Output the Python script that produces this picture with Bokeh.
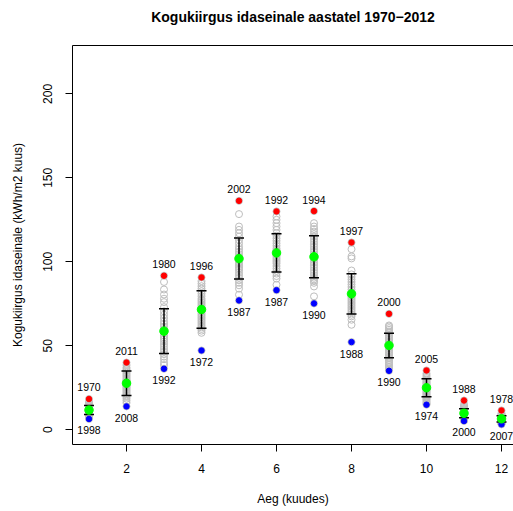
from bokeh.plotting import figure
from bokeh.models import FixedTicker, LinearAxis
from bokeh.core.properties import value
from bokeh.embed import file_html
from bokeh.resources import INLINE

months = list(range(1, 13))
max_val = [18.3, 40.0, 91.7, 90.7, 136.3, 130.0, 130.2, 111.5, 69.0, 35.3, 17.4, 11.5]
max_year = ["1970", "2011", "1980", "1996", "2002", "1992", "1994", "1997", "2000", "2005", "1988", "1978"]
min_val = [6.4, 13.9, 36.3, 47.2, 77.0, 83.1, 75.2, 52.2, 35.1, 14.9, 5.2, 3.2]
min_year = ["1998", "2008", "1992", "1972", "1987", "1987", "1990", "1988", "1990", "1974", "2000", "2007"]
mean_val = [11.7, 27.7, 58.7, 71.6, 101.9, 105.3, 103.0, 80.9, 50.2, 25.0, 9.8, 6.5]
sd_val = [2.7, 7.3, 13.3, 11.1, 12.2, 11.4, 12.5, 12.05, 7.3, 5.4, 2.7, 1.85]

vals_01 = [18.3, 16.5, 15.5, 14.8, 14.3, 13.8, 13.4, 13.0, 12.7, 12.4, 12.1, 11.8, 11.5, 11.3, 11.1,
           10.9, 10.7, 10.5, 10.3, 10.1, 9.9, 9.6, 9.3, 9.0, 8.7, 8.4, 8.0, 7.5, 7.0, 6.4]
vals_02 = [40.0, 38.5, 37.0, 36.0, 35.0, 34.0, 33.2, 32.4, 31.6, 30.8, 30.0, 29.3, 28.6, 28.0, 27.4,
           26.8, 26.2, 25.6, 25.0, 24.3, 23.6, 22.9, 22.1, 21.3, 20.4, 19.5, 18.5, 17.3, 16.0, 13.9]
vals_03 = [91.7, 88.0, 83.5, 80.5, 78.0, 76.0, 73.0, 70.5, 68.5, 66.5, 64.5, 63.0, 61.5, 60.0, 58.8,
           57.5, 56.2, 55.0, 53.8, 52.5, 51.0, 49.5, 48.0, 46.5, 45.0, 43.5, 42.0, 40.0, 38.5, 36.3]
vals_04 = [90.7, 88.5, 87.0, 85.5, 84.0, 82.5, 81.0, 79.5, 78.0, 77.0, 76.0, 75.0, 74.0, 73.0, 72.0,
           71.0, 70.0, 69.0, 68.0, 67.0, 66.0, 65.0, 64.0, 63.0, 62.0, 61.0, 60.0, 59.0, 57.7, 47.2]
vals_05 = [136.3, 128.4, 121.0, 119.0, 117.0, 115.0, 113.0, 111.0, 109.0, 107.5, 106.0, 104.5, 103.0, 102.0, 101.0,
           100.0, 99.0, 98.0, 97.0, 96.0, 95.0, 93.5, 92.0, 90.5, 89.0, 87.5, 86.0, 84.0, 80.4, 77.0]
vals_06 = [130.0, 127.0, 125.0, 123.0, 121.0, 119.0, 117.0, 115.5, 114.0, 112.5, 111.0, 109.5, 108.0, 107.0, 106.0,
           105.0, 104.0, 103.0, 102.0, 101.0, 100.0, 99.0, 97.5, 96.0, 94.5, 93.0, 91.5, 90.0, 86.3, 83.1]
vals_07 = [130.2, 123.0, 121.0, 119.5, 118.0, 116.5, 115.0, 113.5, 112.0, 110.5, 109.0, 107.5, 106.0, 104.5, 103.0,
           102.0, 101.0, 99.5, 98.0, 96.5, 95.0, 93.5, 92.0, 90.5, 89.5, 88.5, 87.5, 85.3, 79.4, 75.2]
vals_08 = [111.5, 107.5, 103.2, 102.0, 94.8, 92.5, 91.0, 89.5, 88.0, 86.5, 85.0, 83.5, 82.0, 81.0, 80.0,
           79.0, 78.0, 77.0, 76.0, 75.0, 74.0, 73.0, 72.0, 71.0, 70.0, 68.5, 67.5, 65.5, 62.5, 52.2]
vals_09 = [69.0, 62.1, 61.5, 60.5, 59.5, 58.5, 57.5, 56.5, 55.5, 54.5, 53.5, 52.5, 51.5, 50.5, 49.5,
           48.5, 47.5, 46.5, 45.5, 44.5, 43.5, 42.5, 41.5, 40.5, 39.5, 38.5, 37.5, 36.5, 35.8, 35.1]
vals_10 = [35.3, 33.5, 32.5, 31.5, 30.8, 30.0, 29.3, 28.6, 28.0, 27.4, 26.8, 26.2, 25.6, 25.0, 24.4,
           23.8, 23.2, 22.6, 22.0, 21.4, 20.8, 20.2, 19.6, 19.0, 18.4, 17.8, 17.0, 16.2, 15.5, 14.9]
vals_11 = [17.4, 15.0, 14.2, 13.5, 13.0, 12.5, 12.0, 11.6, 11.2, 10.9, 10.6, 10.3, 10.0, 9.7, 9.4,
           9.1, 8.8, 8.5, 8.2, 7.9, 7.6, 7.3, 7.0, 6.8, 6.5, 6.2, 6.0, 5.8, 5.5, 5.2]
vals_12 = [11.5, 9.8, 9.2, 8.8, 8.5, 8.2, 7.9, 7.7, 7.5, 7.3, 7.1, 6.9, 6.7, 6.6, 6.5,
           6.3, 6.1, 5.9, 5.7, 5.5, 5.3, 5.1, 4.9, 4.7, 4.5, 4.3, 4.1, 3.8, 3.5, 3.2]

x_ticks = [2, 4, 6, 8, 10, 12]
y_ticks = [0, 50, 100, 150, 200]
title_text = "Kogukiirgus idaseinale aastatel 1970\u22122012"

all_vals = [vals_01, vals_02, vals_03, vals_04, vals_05, vals_06,
            vals_07, vals_08, vals_09, vals_10, vals_11, vals_12]
gx, gy = [], []
for m, vs in zip(months, all_vals):
    gx += [m] * len(vs)
    gy += vs
upper = [m + s for m, s in zip(mean_val, sd_val)]
lower = [m - s for m, s in zip(mean_val, sd_val)]

FONT = "Liberation Sans"

p = figure(width=513, height=511, x_range=(0.56, 12.32), y_range=(-8.8, 228.8),
           output_backend="svg", toolbar_location=None,
           min_border_left=72, min_border_right=0, min_border_bottom=67, min_border_top=45)

p.title.text = title_text
p.title.align = "center"
p.title.text_font = FONT
p.title.text_font_size = "14px"
p.title.text_font_style = "bold"
p.title.text_color = "black"
p.title.standoff = 12

p.outline_line_color = None
p.xgrid.visible = False
p.ygrid.visible = False
p.background_fill_color = "white"
p.border_fill_color = "white"

xax = p.below[0]
yax = p.left[0]
for ax in (xax, yax):
    ax.axis_line_color = "black"
    ax.axis_line_width = 1
    ax.major_tick_line_color = "black"
    ax.major_tick_out = 7
    ax.major_tick_in = 0
    ax.minor_tick_line_color = None
    ax.major_label_text_font = FONT
    ax.major_label_text_font_size = "12px"
    ax.major_label_text_color = "black"
    ax.axis_label_text_font = FONT
    ax.axis_label_text_font_size = "12px"
    ax.axis_label_text_font_style = "normal"
    ax.axis_label_text_color = "black"

xax.ticker = FixedTicker(ticks=x_ticks)
yax.ticker = FixedTicker(ticks=y_ticks)
xax.axis_label = "Aeg (kuudes)"
yax.axis_label = "Kogukiirgus idaseinale (kWh/m2 kuus)"
xax.major_label_standoff = 12
xax.axis_label_standoff = 16
yax.major_label_orientation = "vertical"
yax.major_label_standoff = 13
yax.axis_label_standoff = 16

# top border line of the box, drawn as a bare axis that also spaces the title
top_axis = LinearAxis(ticker=FixedTicker(ticks=[6]), axis_line_color="black", axis_line_width=1,
                      major_tick_line_color=None, minor_tick_line_color=None,
                      major_tick_out=15, major_tick_in=0, minor_tick_out=0,
                      major_label_standoff=0, major_label_text_font_size="1px",
                      major_label_text_alpha=0, major_label_overrides={6: " "})
p.add_layout(top_axis, "above")

p.scatter(gx, gy, marker="circle", size=7, fill_color=None, line_color="#BEBEBE", line_width=1)
p.segment(x0=months, y0=lower, x1=months, y1=upper, line_color="black", line_width=1.5)
p.scatter(months, upper, marker="dash", size=10, line_color="black", line_width=1.5)
p.scatter(months, lower, marker="dash", size=10, line_color="black", line_width=1.5)
p.scatter(months, max_val, marker="circle", size=5.5, color="#FF0000")
p.scatter(months, min_val, marker="circle", size=5.5, color="#0000FF")
p.scatter(months, mean_val, marker="circle", size=8.5, color="#00FF00")

p.text(x=months, y=max_val, text=max_year, text_align="center", text_baseline="middle",
       y_offset=-11.5, text_font=value(FONT), text_font_size="10.5px", text_color="black")
p.text(x=months, y=min_val, text=min_year, text_align="center", text_baseline="middle",
       y_offset=11.5, text_font=value(FONT), text_font_size="10.5px", text_color="black")

open("out.html", "w").write(file_html(p, INLINE))
